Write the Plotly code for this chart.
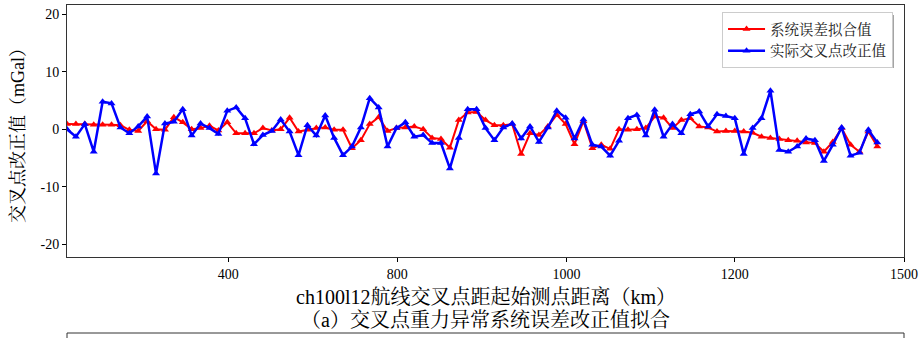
import plotly.graph_objects as go

# ---- data ----
fit_values = [0.9, 0.9, 0.9, 0.8, 0.8, 0.8, 0.7, -0.1, -0.3, 1.4, 0.0, -0.1, 2.1, 1.2, 0.0,
              0.2, 0.6, -0.2, 1.2, -0.7, -0.7, -0.7, 0.2, -0.2, 0.0, 2.0, -0.4, -0.1, 0.2, 0.3,
              -0.1, -0.1, -3.3, -1.9, 0.9, 2.1, -0.3, 0.2, 0.3, 0.5, 0.0, -1.5, -1.7, -3.2, 1.6,
              2.9, 3.0, 1.6, 0.7, 0.7, 0.9, -4.3, -0.7, -1.0, 0.5, 2.5, 0.9, -2.6, 1.4, -3.3,
              -2.7, -3.4, 0.0, -0.1, 0.0, 0.2, 2.2, 2.0, 0.2, 1.6, 1.9, 0.5, 0.3, -0.4, -0.3,
              -0.3, -0.4, -0.6, -1.3, -1.5, -1.7, -1.9, -2.0, -2.3, -2.4, -3.9, -2.2, 0.2, -2.7,
              -3.9, -0.4, -3.0]
actual_values = [0.0, -1.3, 0.9, -3.9, 4.8, 4.5, 0.3, -0.7, 0.5, 2.2, -7.7, 1.0, 1.3, 3.5, -1.1,
                 1.0, 0.2, -0.8, 3.2, 3.8, 1.9, -2.6, -1.0, -0.3, 1.7, -0.4, -4.5, 0.7, -1.1, 2.4,
                 -1.5, -4.5, -3.0, 0.3, 5.4, 3.8, -3.0, 0.2, 1.2, -1.3, -1.0, -2.4, -2.4, -6.8, -1.5,
                 3.5, 3.5, 0.2, -1.9, 0.3, 1.0, -1.6, 0.5, -2.2, 0.3, 3.2, 2.0, -1.6, 1.7, -2.7,
                 -3.0, -4.6, -2.0, 1.9, 2.5, -1.1, 3.4, -1.3, 0.9, -0.7, 2.6, 3.1, 0.5, 2.6, 2.3,
                 1.9, -4.3, 0.2, 1.9, 6.7, -3.6, -3.9, -3.0, -1.6, -1.9, -5.5, -2.7, 0.3, -4.6,
                 -4.1, -0.1, -2.3]
point_index = list(range(len(actual_values)))
x_tick_labels = ["400", "800", "1000", "1200", "1500"]
y_tick_values = [-20, -10, 0, 10, 20]
y_tick_labels = ["-20", "-10", "0", "10", "20"]
series_names = ["系统误差拟合值", "实际交叉点改正值"]

FONT = "Liberation Serif, Noto Serif CJK SC, Noto Sans CJK SC, serif"

fig = go.Figure()
fig.add_trace(go.Scatter(
    x=point_index, y=fit_values, name=series_names[0], mode="lines+markers",
    line=dict(color="#ff0000", width=2),
    marker=dict(symbol="triangle-up", size=7, color="#ff0000"),
))
fig.add_trace(go.Scatter(
    x=point_index, y=actual_values, name=series_names[1], mode="lines+markers",
    line=dict(color="#0000ff", width=2.5),
    marker=dict(symbol="triangle-up", size=7, color="#0000ff"),
))

fig.update_layout(
    width=922, height=338,
    margin=dict(l=67, r=18, t=5, b=81),
    paper_bgcolor="white", plot_bgcolor="white",
    font=dict(family=FONT, color="black", size=14),
    showlegend=True,
    legend=dict(
        x=0.7826, y=0.972, xanchor="left", yanchor="top",
        bgcolor="white", bordercolor="#cccccc", borderwidth=1,
        font=dict(family=FONT, size=14.5, color="#222222"),
        tracegroupgap=0, itemwidth=37,
    ),
    xaxis=dict(
        range=[0, 94.0],
        tickmode="array",
        tickvals=[18.1, 37.1, 56.1, 75.0, 94.0],
        ticktext=x_tick_labels,
        ticks="outside", ticklen=4, tickcolor="black",
        showgrid=False, zeroline=False,
        showline=True, linecolor="#333333", linewidth=1, mirror=True,
        tickfont=dict(family=FONT, size=14),
    ),
    yaxis=dict(
        range=[-22.2, 21.6],
        tickmode="array",
        tickvals=y_tick_values,
        ticktext=y_tick_labels,
        ticks="outside", ticklen=4, tickcolor="black",
        showgrid=False, zeroline=False,
        showline=True, linecolor="#333333", linewidth=1, mirror=True,
        tickfont=dict(family=FONT, size=14),
    ),
)

# legend shadow
fig.add_shape(type="rect", xref="paper", yref="paper",
              x0=0.786, x1=0.9875, y0=0.75, y1=0.960,
              fillcolor="#555555", line=dict(width=0), layer="above")

# top frame of the next panel, partially visible
fig.add_shape(type="rect", xref="paper", yref="paper",
              x0=0, x1=1, y0=-0.6, y1=-0.3016,
              fillcolor="rgba(0,0,0,0)", line=dict(color="#333333", width=1))

fig.add_annotation(text="ch100l12航线交叉点距起始测点距离（km）", xref="paper", yref="paper",
                   x=0.5, y=-0.1587, xanchor="center", yanchor="middle", showarrow=False,
                   font=dict(family=FONT, size=20, color="black"))
fig.add_annotation(text="（a）交叉点重力异常系统误差改正值拟合", xref="paper", yref="paper",
                   x=0.5, y=-0.25, xanchor="center", yanchor="middle", showarrow=False,
                   font=dict(family=FONT, size=20, color="black"))
fig.add_annotation(text="交叉点改正值（mGal）", xref="paper", yref="paper",
                   x=-0.0585, y=0.5, xanchor="center", yanchor="middle", showarrow=False,
                   textangle=-90, font=dict(family=FONT, size=18, color="black"))

fig.write_html("out.html", config={"displayModeBar": False},
               post_script="document.body.style.margin='0';document.body.style.overflow='hidden';")
